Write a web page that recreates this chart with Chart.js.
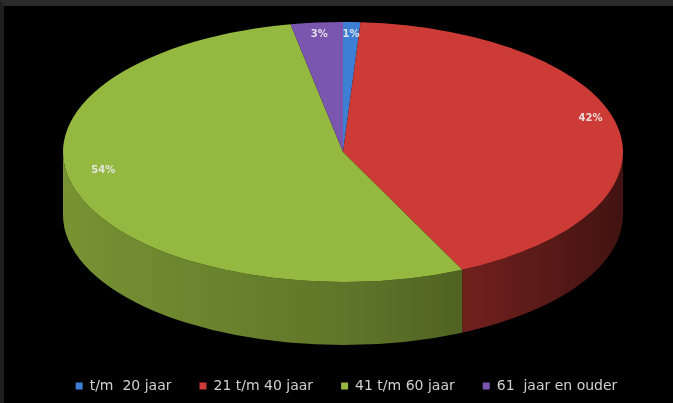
<!DOCTYPE html>
<html lang="nl">
<head>
<meta charset="UTF-8">
<title>Leeftijd</title>
<script src="https://cdn.jsdelivr.net/npm/chart.js"></script>
<style>
  body {
    margin: 0;
    background: #000;
  }
  .wrap {
    position: relative;
    width: 673px;
    height: 403px;
    background: #000;
  }
  .frame {
    position: absolute;
    left: 0;
    top: 0;
    right: 0;
    bottom: 0;
    border-top: 6px solid #2a2a2a;
    border-left: 4px solid #1f1f1f;
    pointer-events: none;
  }
</style>
</head>
<body>
<div class="wrap">
  <canvas id="pie" width="673" height="403"></canvas>
  <div class="frame"></div>
</div>

<script>
// data
const labels = ['t/m  20 jaar', '21 t/m 40 jaar', '41 t/m 60 jaar', '61  jaar en ouder'];
const values = [1, 42, 54, 3];
const valueLabels = ['1%', '42%', '54%', '3%'];
const colors = ['#3e7fd6', '#cd3b36', '#95b840', '#7b56ae'];

// layout of the tilted pie (screen pixels)
const CX = 343, CY = 152;
const RX = 280, RY = 130;
const DEPTH = 63;
const TILT = RY / RX;

function shade(hex, f) {
  const n = parseInt(hex.slice(1), 16);
  const r = Math.round(((n >> 16) & 255) * f);
  const g = Math.round(((n >> 8) & 255) * f);
  const b = Math.round((n & 255) * f);
  return `rgb(${r},${g},${b})`;
}

const pie3d = {
  id: 'pie3d',
  beforeDatasetsDraw(chart) {
    const ctx = chart.ctx;
    const arcs = chart.getDatasetMeta(0).data;

    // side walls, only the front half (angles 0..PI) is visible
    arcs.forEach((arc, i) => {
      const a1 = Math.max(arc.startAngle, 0);
      const a2 = Math.min(arc.endAngle, Math.PI);
      if (a2 <= a1) return;
      const base = colors[i];
      const grad = ctx.createLinearGradient(CX - RX, 0, CX + RX, 0);
      grad.addColorStop(0, shade(base, 0.8));
      grad.addColorStop(0.5, shade(base, 0.64));
      grad.addColorStop(0.75, shade(base, 0.52));
      grad.addColorStop(1, shade(base, 0.32));
      ctx.save();
      ctx.beginPath();
      ctx.ellipse(CX, CY, RX, RY, 0, a1, a2);
      ctx.lineTo(CX + RX * Math.cos(a2), CY + DEPTH + RY * Math.sin(a2));
      ctx.ellipse(CX, CY + DEPTH, RX, RY, 0, a2, a1, true);
      ctx.closePath();
      ctx.fillStyle = grad;
      ctx.fill();
      ctx.restore();
    });

    // squash the top face
    const cx = arcs[0].x, cy = arcs[0].y;
    ctx.save();
    ctx.translate(CX, CY);
    ctx.scale(1, TILT);
    ctx.translate(-cx, -cy);
  },
  afterDatasetsDraw(chart) {
    const ctx = chart.ctx;
    ctx.restore();

    const arcs = chart.getDatasetMeta(0).data;
    ctx.save();
    ctx.font = 'bold 10px "DejaVu Sans"';
    ctx.fillStyle = 'rgba(235,235,235,0.9)';
    ctx.textAlign = 'center';
    ctx.textBaseline = 'middle';
    arcs.forEach((arc, i) => {
      const mid = (arc.startAngle + arc.endAngle) / 2;
      const x = CX + RX * 0.9 * Math.cos(mid);
      const y = CY + RY * 0.8 * Math.sin(mid) - 14;
      ctx.fillText(valueLabels[i], x, y);
    });
    ctx.restore();
  }
};

new Chart(document.getElementById('pie'), {
  type: 'pie',
  data: {
    labels: labels,
    datasets: [{
      data: values,
      backgroundColor: colors,
      borderWidth: 0
    }]
  },
  options: {
    responsive: false,
    animation: false,
    radius: RX,
    layout: { padding: { left: 20 } },
    plugins: {
      tooltip: { enabled: false },
      legend: {
        position: 'bottom',
        labels: {
          color: '#d0d0d0',
          font: { family: 'DejaVu Sans', size: 14 },
          boxWidth: 7,
          boxHeight: 7,
          padding: 28
        }
      }
    }
  },
  plugins: [pie3d]
});
</script>
</body>
</html>
